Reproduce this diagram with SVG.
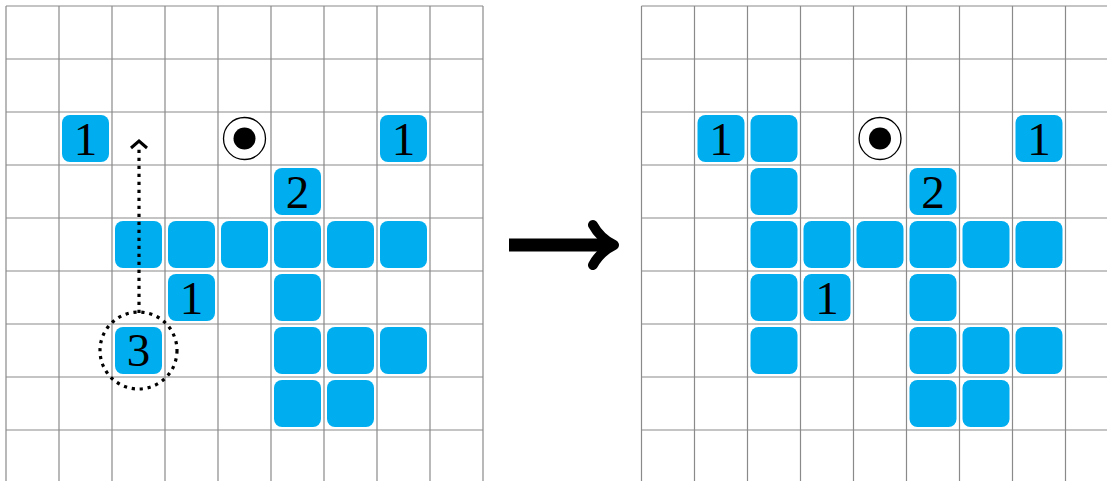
<svg xmlns="http://www.w3.org/2000/svg" width="1107" height="481" viewBox="0 0 1107 481">
<style>
.g{stroke:#8a8a8a;stroke-width:1.2;fill:none}
.t{fill:#00adee}
.n{font-family:"Liberation Serif","Times New Roman",serif;font-size:47px;fill:#000;text-anchor:middle}
.d{fill:none;stroke:#000;stroke-width:3.2;stroke-dasharray:3.2 4.8}
</style>
<defs>
<rect id="tile" class="t" x="3" y="3" width="47" height="47" rx="8"/>
<g id="tgt"><circle cx="26.5" cy="26.5" r="21" fill="#fff" stroke="#000" stroke-width="1.3"/><circle cx="26.5" cy="26.5" r="11" fill="#000"/></g>
</defs>
<rect width="1107" height="481" fill="#fff"/>
<g id="gridL">
<path class="g" d="M6,6V481M59,6V481M112,6V481M165,6V481M218,6V481M271,6V481M324,6V481M377,6V481M430,6V481M483,6V481M6,6H483M6,59H483M6,112H483M6,165H483M6,218H483M6,271H483M6,324H483M6,377H483M6,430H483"/>
</g>
<g id="gridR">
<path class="g" d="M641.5,6V481M694.5,6V481M747.5,6V481M800.5,6V481M853.5,6V481M906.5,6V481M959.5,6V481M1012.5,6V481M1065.5,6V481M641.5,6H1107M641.5,59H1107M641.5,112H1107M641.5,165H1107M641.5,218H1107M641.5,271H1107M641.5,324H1107M641.5,377H1107M641.5,430H1107"/>
</g>
<g id="left">
<g id="L-r2c1"><use href="#tile" x="59" y="112"/><text class="n" x="85.5" y="155">1</text></g>
<g id="L-target"><use href="#tgt" x="218" y="112"/></g>
<g id="L-r2c7"><use href="#tile" x="377" y="112"/><text class="n" x="403.5" y="155">1</text></g>
<g id="L-r3c5"><use href="#tile" x="271" y="165"/><text class="n" x="297.5" y="208">2</text></g>
<g id="L-r4"><use href="#tile" x="112" y="218"/><use href="#tile" x="165" y="218"/><use href="#tile" x="218" y="218"/><use href="#tile" x="271" y="218"/><use href="#tile" x="324" y="218"/><use href="#tile" x="377" y="218"/></g>
<g id="L-r5c3"><use href="#tile" x="165" y="271"/><text class="n" x="191.5" y="314">1</text></g>
<g id="L-r5c5"><use href="#tile" x="271" y="271"/></g>
<g id="L-r6c2"><use href="#tile" x="112" y="324"/><text class="n" x="138.5" y="366">3</text></g>
<g id="L-r6"><use href="#tile" x="271" y="324"/><use href="#tile" x="324" y="324"/><use href="#tile" x="377" y="324"/></g>
<g id="L-r7"><use href="#tile" x="271" y="377"/><use href="#tile" x="324" y="377"/></g>
</g>
<g id="right">
<g id="R-r2c1"><use href="#tile" x="694.5" y="112"/><text class="n" x="721" y="155">1</text></g>
<g id="R-r2c2"><use href="#tile" x="747.5" y="112"/></g>
<g id="R-target"><use href="#tgt" x="853.5" y="112"/></g>
<g id="R-r2c7"><use href="#tile" x="1012.5" y="112"/><text class="n" x="1039" y="155">1</text></g>
<g id="R-r3c2"><use href="#tile" x="747.5" y="165"/></g>
<g id="R-r3c5"><use href="#tile" x="906.5" y="165"/><text class="n" x="933" y="208">2</text></g>
<g id="R-r4"><use href="#tile" x="747.5" y="218"/><use href="#tile" x="800.5" y="218"/><use href="#tile" x="853.5" y="218"/><use href="#tile" x="906.5" y="218"/><use href="#tile" x="959.5" y="218"/><use href="#tile" x="1012.5" y="218"/></g>
<g id="R-r5c2"><use href="#tile" x="747.5" y="271"/></g>
<g id="R-r5c3"><use href="#tile" x="800.5" y="271"/><text class="n" x="827" y="314">1</text></g>
<g id="R-r5c5"><use href="#tile" x="906.5" y="271"/></g>
<g id="R-r6"><use href="#tile" x="747.5" y="324"/><use href="#tile" x="906.5" y="324"/><use href="#tile" x="959.5" y="324"/><use href="#tile" x="1012.5" y="324"/></g>
<g id="R-r7"><use href="#tile" x="906.5" y="377"/><use href="#tile" x="959.5" y="377"/></g>
</g>
<g id="connectors">
<circle class="d" cx="138.5" cy="350.5" r="38.5"/>
<path class="d" d="M139,313V149"/>
<path d="M131,148L139,141L147,148" fill="none" stroke="#000" stroke-width="3"/>
<path d="M509,245H608" fill="none" stroke="#000" stroke-width="13"/>
<path d="M593,225Q600,238 614,245Q600,252 593,265" fill="none" stroke="#000" stroke-width="10" stroke-linecap="round" stroke-linejoin="round"/>
</g>
</svg>
